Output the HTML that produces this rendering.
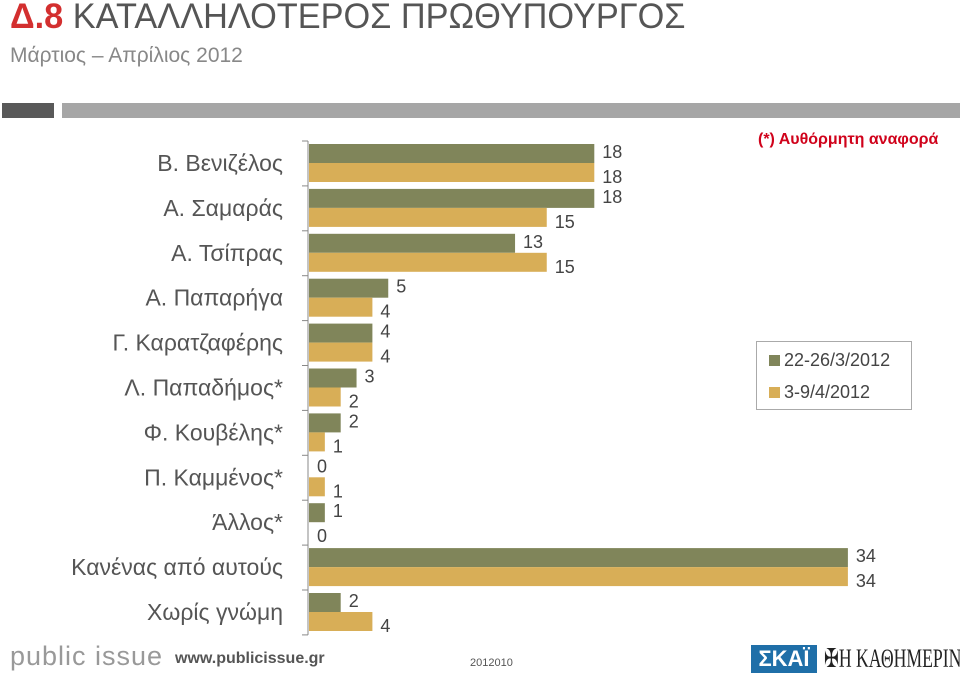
<!DOCTYPE html>
<html><head><meta charset="utf-8"><style>
body{margin:0;width:960px;height:675px;overflow:hidden;background:#fff;font-family:"Liberation Sans","DejaVu Sans",sans-serif;position:relative}
.a{position:absolute;white-space:nowrap}
</style></head><body>
<div class="a" style="left:10px;top:-3px;font-size:35px;font-weight:bold;color:#d32f2f;transform:scaleX(0.98);transform-origin:left">Δ.8 <span style="color:#555;font-weight:normal">ΚΑΤΑΛΛΗΛΟΤΕΡΟΣ ΠΡΩΘΥΠΟΥΡΓΟΣ</span></div>
<div class="a" style="left:10px;top:44px;font-size:21px;color:#888">Μάρτιος – Απρίλιος 2012</div>
<div class="a" style="left:2px;top:103px;width:52px;height:15px;background:#595959"></div>
<div class="a" style="left:62px;top:103px;width:898px;height:15px;background:#a6a6a6"></div>
<div class="a" style="left:758px;top:131px;font-size:16px;font-weight:bold;color:#d0021b">(*) Αυθόρμητη αναφορά</div>
<svg class="a" style="left:0;top:0" width="960" height="675" id="chart"></svg>
<div class="a" style="left:756px;top:341px;width:154px;height:67px;border:1px solid #aaa;background:#fff">
 <div class="a" style="left:12px;top:8px;font-size:18px;color:#444"><span style="display:inline-block;width:11px;height:11px;background:#80855a;margin-right:4px"></span>22-26/3/2012</div>
 <div class="a" style="left:12px;top:40px;font-size:18px;color:#444"><span style="display:inline-block;width:11px;height:11px;background:#d8ae57;margin-right:4px"></span>3-9/4/2012</div>
</div>
<div class="a" style="left:10px;top:641px;font-size:27px;color:#999;letter-spacing:1px">public issue</div>
<div class="a" style="left:175px;top:650px;font-size:16px;font-weight:bold;color:#555">www.publicissue.gr</div>
<div class="a" style="left:470px;top:657px;font-size:11px;color:#555">2012010</div>
<div class="a" style="left:751px;top:645px;width:66px;height:28px;background:#1f6fa8;color:#fff;font-size:22px;font-weight:bold;text-align:center;line-height:28px">ΣΚΑΪ</div>
<div class="a" style="left:824px;top:644px;font-size:26px;color:#222;font-family:'Liberation Serif',serif;transform:scaleX(0.68);transform-origin:left">✠Η ΚΑΘΗΜΕΡΙΝΗ</div>
<script>
const categories=["Β. Βενιζέλος","Α. Σαμαράς","Α. Τσίπρας","Α. Παπαρήγα","Γ. Καρατζαφέρης","Λ. Παπαδήμος*","Φ. Κουβέλης*","Π. Καμμένος*","Άλλος*","Κανένας από αυτούς","Χωρίς γνώμη"];
const marchValues=[18,18,13,5,4,3,2,0,1,34,2];
const aprilValues=[18,15,15,4,4,2,1,1,0,34,4];
const svg=document.getElementById('chart');
const NS='http://www.w3.org/2000/svg';
const x0=309,unit=15.85,top0=141,band=44.9;
const xs=v=>x0+v*unit;
const ys=i=>top0+i*band;
function mk(t,a){const e=document.createElementNS(NS,t);for(const k in a)e.setAttribute(k,a[k]);svg.appendChild(e);return e;}
const ax=mk('line',{x1:308,y1:top0,x2:308,y2:top0+categories.length*band,stroke:'#888'});


for(let i=0;i<=categories.length;i++){const t=mk('line',{x1:302,y1:ys(i),x2:308,y2:ys(i),stroke:'#888'});

}
categories.forEach((c,i)=>{
 const l=mk('text',{x:283,y:ys(i)+30,'text-anchor':'end','font-size':'23',fill:'#555'});l.textContent=c;
 
 
 [[marchValues,'#80855a',3],[aprilValues,'#d8ae57',22]].forEach(([arr,col,off],s)=>{
  const v=arr[i];
  const r=mk('rect',{x:x0,y:ys(i)+off,width:xs(v)-x0,height:19,fill:col});
  
  
  const t=mk('text',{x:xs(v)+8,y:ys(i)+off+16+(s?4:-2),'font-size':'18',fill:'#444'});t.textContent=v;
  
  
 });
});
</script>
</body></html>
